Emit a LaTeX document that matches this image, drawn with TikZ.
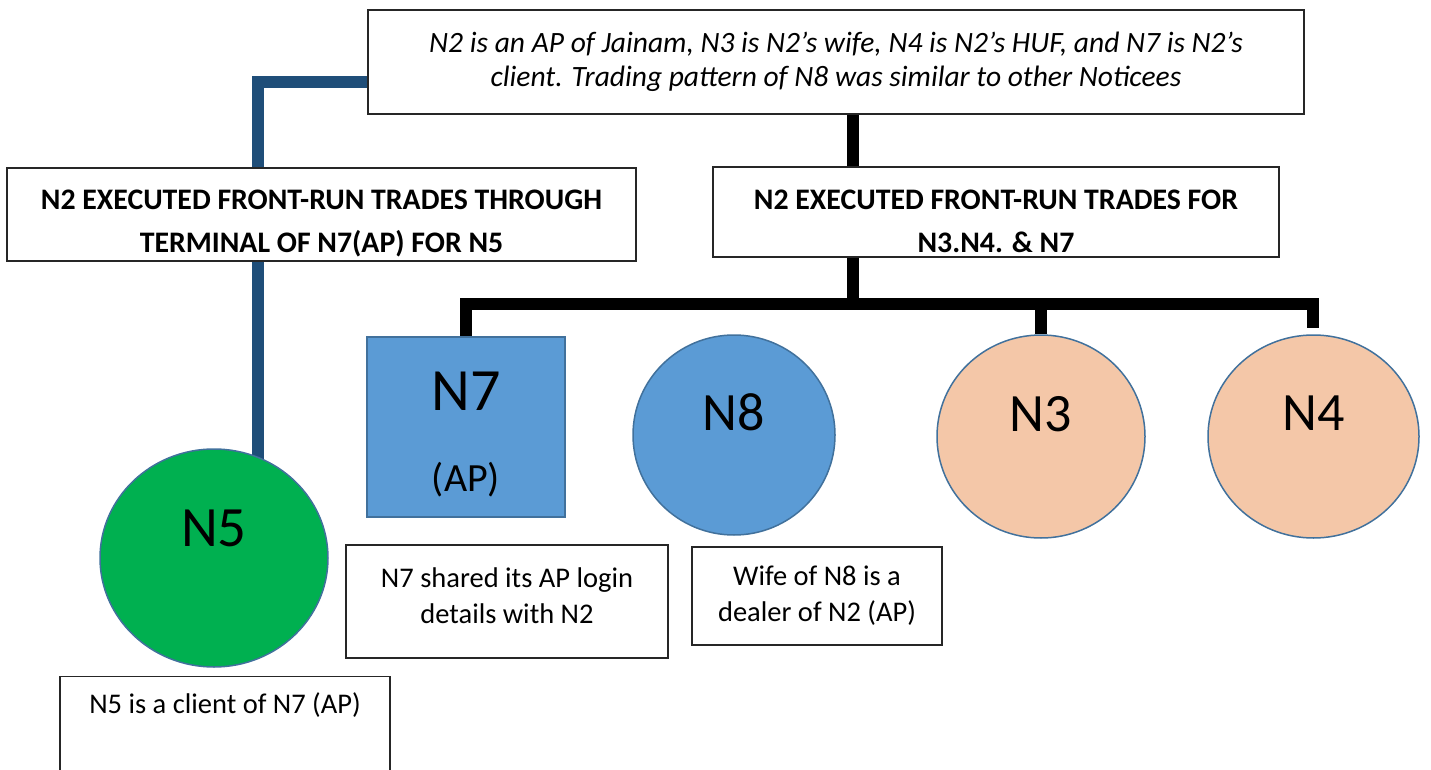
\documentclass[tikz,border=0pt]{standalone}
\usepackage{fontspec}
\setmainfont{Carlito}
\usetikzlibrary{shapes.geometric,backgrounds}
\definecolor{navyline}{HTML}{1F4E79}
\definecolor{bluefill}{HTML}{5B9BD5}
\definecolor{blueedge}{HTML}{41719C}
\definecolor{peach}{HTML}{F4C7A8}
\definecolor{greenfill}{HTML}{00B050}
\begin{document}
\begin{tikzpicture}[x=1pt,y=-1pt,
  box/.style={draw=black!85, line width=1.3pt, fill=white, inner sep=0pt, align=center},
  boldbox/.style={box, font=\bfseries\fontsize{29.8}{43}\selectfont},
  capbox/.style={box, font=\fontsize{28.5}{36}\selectfont},
  shapeedge/.style={draw=blueedge, line width=1.5pt, inner sep=0pt},
  oval/.style={shapeedge, ellipse},
  navyconn/.style={draw=navyline, line width=12pt, line join=miter},
  blackconn/.style={draw=black, line width=12pt, line join=miter}
]
\useasboundingbox (0,0) rectangle (1431,770);
\clip (0,0) rectangle (1431,770);

% text boxes
\node[box, minimum width=936, minimum height=104,
      font=\itshape\fontsize{29.5}{34}\selectfont] (top) at (836,62)
  {N2 is an AP of Jainam, N3 is N2’s wife, N4 is N2’s HUF, and N7 is N2’s\\client. Trading pattern of N8 was similar to other Noticees};
\node[boldbox, minimum width=629, minimum height=93] (left) at (321.5,214.5)
  {\rule{0pt}{38pt}N2 EXECUTED FRONT-RUN TRADES THROUGH\\TERMINAL OF N7(AP) FOR N5};
\node[boldbox, minimum width=566, minimum height=90] (right) at (996,212)
  {\rule{0pt}{38pt}N2 EXECUTED FRONT-RUN TRADES FOR\\N3.N4. \& N7};

% shapes
\node[shapeedge, rectangle, fill=bluefill, minimum width=198, minimum height=180, align=center,
      font=\fontsize{60}{81}\selectfont] (n7) at (466,427)
  {\rule{0pt}{53pt}N7\\\fontsize{40}{81}\selectfont (AP)};
\node[oval, fill=bluefill, minimum width=202, minimum height=200,
      font=\fontsize{54}{54}\selectfont, text depth=46pt] (n8) at (734,435) {N8};
\node[oval, fill=peach, minimum width=208, minimum height=203,
      font=\fontsize{54}{54}\selectfont, text depth=46pt] (n3) at (1041,436.5) {N3};
\node[oval, fill=peach, minimum width=211, minimum height=203,
      font=\fontsize{54}{54}\selectfont, text depth=46pt] (n4) at (1313.5,436.5) {N4};
\node[oval, fill=greenfill, minimum width=228, minimum height=218,
      font=\fontsize{57}{57}\selectfont, text depth=60pt] (n5) at (214,558) {N5};

% captions
\node[capbox, minimum width=322, minimum height=113] (c7) at (507,601.5)
  {N7 shared its AP login\\details with N2\rule[-12pt]{0pt}{12pt}};
\node[capbox, minimum width=250, minimum height=98] (c8) at (817,596)
  {Wife of N8 is a\\dealer of N2 (AP)};
\node[capbox, anchor=north, minimum width=330, text height=37pt, text depth=70pt] (c5) at (225,676)
  {N5 is a client of N7 (AP)};

% connectors
\coordinate (bx) at (258,0);
\coordinate (kx) at (853,0);
\coordinate (bl) at ([yshift=-20pt]top.west);
\coordinate (bar) at (853,304);
\coordinate (n4cap) at (1313,328);
\begin{scope}[on background layer]
  \draw[navyconn] (bl) -| (left.north -| bx);
  \draw[navyconn] (left.south -| bx) -- (n5.center -| bx);
  \draw[blackconn] (top.south -| kx) -- (right.north -| kx);
  \draw[blackconn] (right.south -| kx) -- (bar);
  \draw[blackconn] (n7.north) |- (bar) -| (n4cap);
  \draw[blackconn] (bar -| n3.north) -- (n3.north);
\end{scope}
\end{tikzpicture}
\end{document}
